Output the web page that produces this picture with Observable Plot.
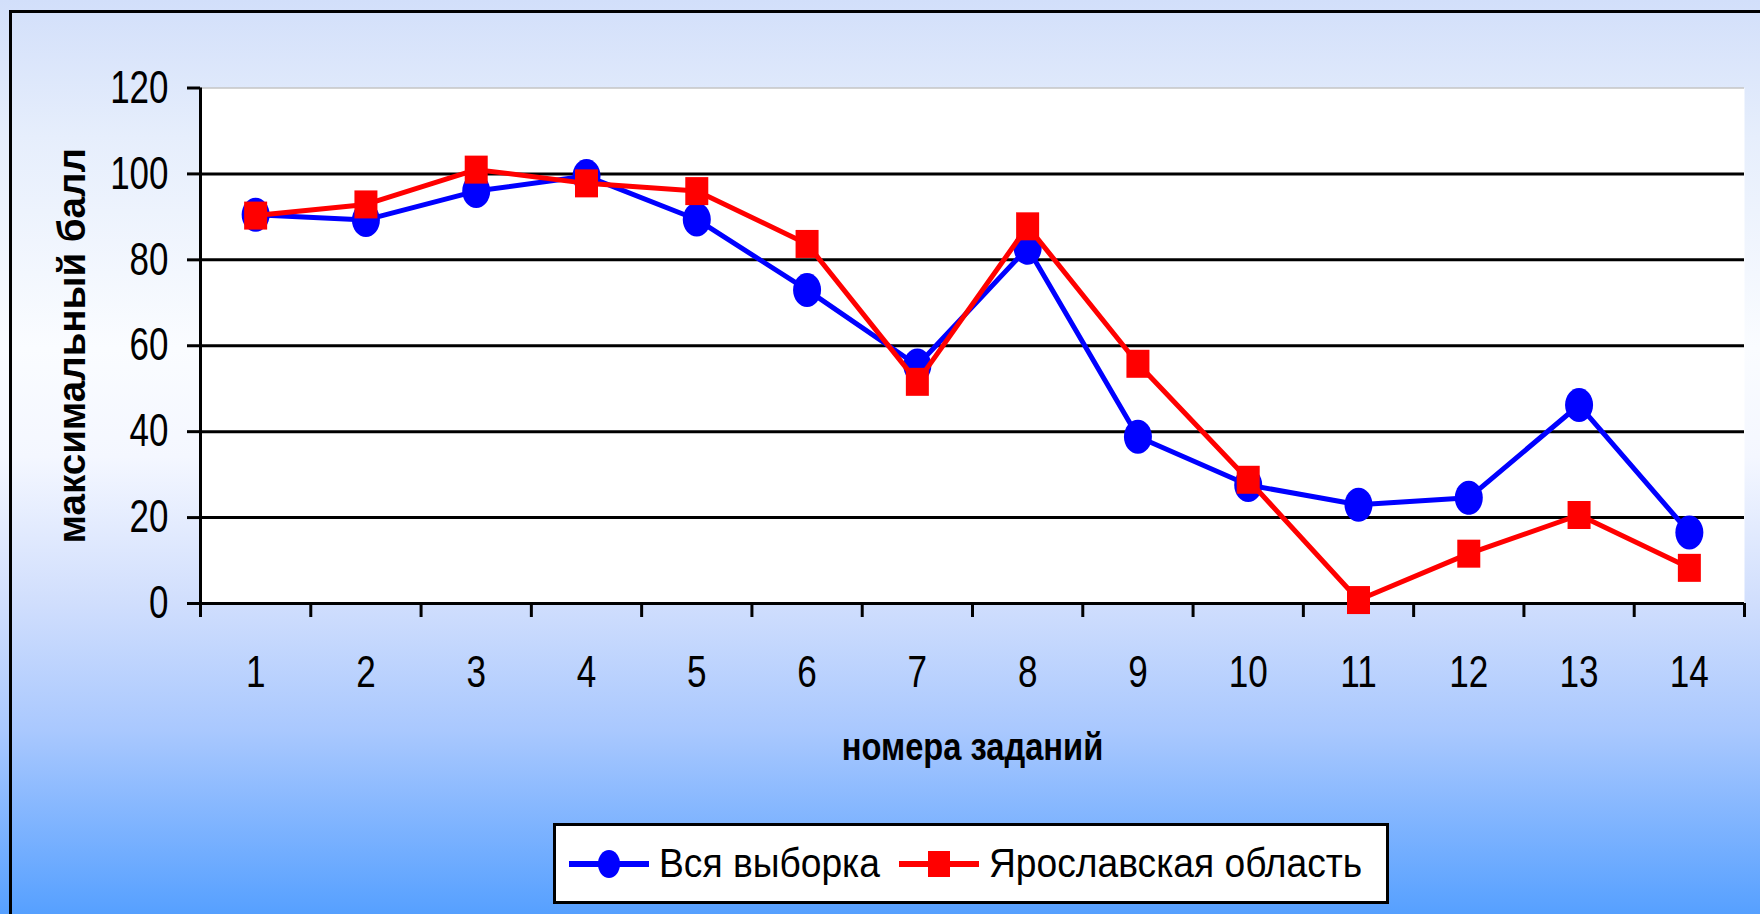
<!DOCTYPE html>
<html>
<head>
<meta charset="utf-8">
<script src="https://cdn.jsdelivr.net/npm/d3@7"></script>
<script src="https://cdn.jsdelivr.net/npm/@observablehq/plot@0.6"></script>
<style>
  html, body { margin: 0; padding: 0; }
  body { width: 1760px; height: 914px; overflow: hidden; }
  #page {
    position: relative; width: 1760px; height: 914px; overflow: hidden;
    background: linear-gradient(to bottom, #d2dffa 0%, #e6eefc 15%, #fafcff 38%, #f4f7ff 50%, #d0defd 66%, #a9c8fe 80%, #56a0ff 100%);
    font-family: "Liberation Sans", Arial, sans-serif;
  }
  #frame {
    position: absolute; left: 9px; top: 10px; right: -20px; bottom: -20px;
    border-left: 3px solid #000; border-top: 3px solid #000;
  }
  #chart { position: absolute; left: 0; top: 0; }
  #legend {
    position: absolute; left: 553px; top: 823px; width: 830px; height: 75px;
    border: 3px solid #000; background: #fff;
  }
  .li { position: absolute; top: 0; height: 75px; display: flex; align-items: center; font-size: 40px; color: #000; white-space: nowrap; }
  .li span { display: inline-block; transform: scaleX(0.93); transform-origin: left center; }
</style>
</head>
<body>
<div id="page">
  <div id="frame"></div>
  <div id="chart"></div>
  <div id="legend"></div>
</div>
<script>
// ---- data ----
const tasks = [1, 2, 3, 4, 5, 6, 7, 8, 9, 10, 11, 12, 13, 14];
const allSample = [90.5, 89.3, 96.0, 99.5, 89.4, 73.0, 55.4, 82.8, 38.8, 27.6, 23.0, 24.6, 46.2, 16.5];
const yaroslavl = [90.3, 92.9, 101.0, 97.8, 96.0, 83.7, 51.6, 87.8, 55.8, 28.8, 0.8, 11.6, 20.6, 8.3];
const seriesNames = ["Вся выборка", "Ярославская область"];
const seriesColors = ["#0000ff", "#ff0000"];
const yTicks = [0, 20, 40, 60, 80, 100, 120];
const xTitle = "номера заданий";
const yTitle = "максимальный балл";

// ---- custom symbols (vertically stretched markers as in the original) ----
const ellipseSym = {
  draw(ctx) {
    const rx = 14, ry = 17, k = 0.5523;
    ctx.moveTo(rx, 0);
    ctx.bezierCurveTo(rx, ry * k, rx * k, ry, 0, ry);
    ctx.bezierCurveTo(-rx * k, ry, -rx, ry * k, -rx, 0);
    ctx.bezierCurveTo(-rx, -ry * k, -rx * k, -ry, 0, -ry);
    ctx.bezierCurveTo(rx * k, -ry, rx, -ry * k, rx, 0);
    ctx.closePath();
  }
};
const rectSym = {
  draw(ctx) {
    const hw = 11.5, hh = 14;
    ctx.moveTo(-hw, -hh); ctx.lineTo(hw, -hh); ctx.lineTo(hw, hh); ctx.lineTo(-hw, hh); ctx.closePath();
  }
};

const rowsA = tasks.map((t, i) => ({task: t, value: allSample[i], series: seriesNames[0]}));
const rowsB = tasks.map((t, i) => ({task: t, value: yaroslavl[i], series: seriesNames[1]}));
const boundaries = [...tasks.map(t => t - 0.5), tasks[tasks.length - 1] + 0.5];
const xDomain = [boundaries[0], boundaries[boundaries.length - 1]];

const sans = "'Liberation Sans', Arial, sans-serif";

const chart = Plot.plot({
  width: 1760,
  height: 790,
  marginLeft: 200,
  marginRight: 16,
  marginTop: 87.5,
  marginBottom: 187,
  x: {type: "linear", domain: xDomain},
  y: {domain: [yTicks[0], yTicks[yTicks.length - 1]]},
  style: {background: "transparent", fontFamily: sans, color: "#000", overflow: "visible"},
  marks: [
    Plot.frame({fill: "#ffffff", stroke: "none"}),
    Plot.ruleY(yTicks.slice(1, -1), {stroke: "#000", strokeWidth: 3}),
    Plot.ruleY(yTicks.slice(-1), {stroke: "#c4c4c4", strokeWidth: 1.5}),
    Plot.axisY({ticks: yTicks, tickSize: 13, tickPadding: 19, tickFormat: d => String(d),
      fontSize: 46, color: "#000", strokeWidth: 3, label: null}),
    Plot.axisX({ticks: boundaries, tickSize: 14, tickFormat: () => "", color: "#000", strokeWidth: 3, label: null}),
    Plot.axisX({ticks: tasks, tickSize: 0, tickPadding: 52, tickFormat: d => String(d),
      fontSize: 45, color: "#000", label: null}),
    Plot.ruleX(xDomain.slice(0, 1), {stroke: "#000", strokeWidth: 3}),
    Plot.ruleY(yTicks.slice(0, 1), {stroke: "#000", strokeWidth: 3}),
    Plot.line(rowsA, {x: "task", y: "value", stroke: seriesColors[0], strokeWidth: 5}),
    Plot.dot(rowsA, {x: "task", y: "value", symbol: ellipseSym, r: 15, fill: seriesColors[0], stroke: "none"}),
    Plot.line(rowsB, {x: "task", y: "value", stroke: seriesColors[1], strokeWidth: 5}),
    Plot.dot(rowsB, {x: "task", y: "value", symbol: rectSym, r: 13, fill: seriesColors[1], stroke: "none"}),
    Plot.text([xTitle], {frameAnchor: "bottom", dy: 156, fontSize: 38, fontWeight: "bold", fill: "#000"}),
    Plot.text([yTitle], {frameAnchor: "left", textAnchor: "middle", dx: -128, rotate: -90, fontSize: 38.5, fontWeight: "bold",
      fill: "#000"})
  ]
});

// narrow the condensed-looking texts (the original uses a narrow face)
function squeeze(nodes, s) {
  for (const el of nodes) {
    let tr = el.getAttribute("transform") || "";
    const x = el.getAttribute("x");
    if (x != null && isFinite(+x)) {
      tr = `translate(${+x},0) ` + tr;
      el.removeAttribute("x");
    }
    el.setAttribute("transform", tr + ` scale(${s},1)`);
  }
}
const allTexts = Array.from(chart.querySelectorAll("text"));
squeeze(Array.from(chart.querySelectorAll("g[aria-label='y-axis tick label'] text")), 0.76);
squeeze(Array.from(chart.querySelectorAll("g[aria-label='x-axis tick label'] text")), 0.78);
squeeze(allTexts.filter(t => t.textContent === xTitle), 0.86);

document.getElementById("chart").appendChild(chart);

// ---- legend ----
const legend = document.getElementById("legend");
const legendItems = [
  {left: 12, name: seriesNames[0], color: seriesColors[0], shape: "ellipse"},
  {left: 342, name: seriesNames[1], color: seriesColors[1], shape: "rect"}
];
for (const it of legendItems) {
  const div = document.createElement("div");
  div.className = "li";
  div.style.left = it.left + "px";
  const svgNS = "http://www.w3.org/2000/svg";
  const s = document.createElementNS(svgNS, "svg");
  s.setAttribute("width", 82); s.setAttribute("height", 40);
  s.style.marginRight = "9px";
  const ln = document.createElementNS(svgNS, "line");
  ln.setAttribute("x1", 1); ln.setAttribute("x2", 81); ln.setAttribute("y1", 20); ln.setAttribute("y2", 20);
  ln.setAttribute("stroke", it.color); ln.setAttribute("stroke-width", 6);
  s.appendChild(ln);
  let m;
  if (it.shape === "ellipse") {
    m = document.createElementNS(svgNS, "ellipse");
    m.setAttribute("cx", 41); m.setAttribute("cy", 20); m.setAttribute("rx", 11); m.setAttribute("ry", 14);
  } else {
    m = document.createElementNS(svgNS, "rect");
    m.setAttribute("x", 30); m.setAttribute("y", 7); m.setAttribute("width", 22); m.setAttribute("height", 26);
  }
  m.setAttribute("fill", it.color);
  s.appendChild(m);
  div.appendChild(s);
  const t = document.createElement("span");
  t.textContent = it.name;
  div.appendChild(t);
  legend.appendChild(div);
}
</script>
</body>
</html>
